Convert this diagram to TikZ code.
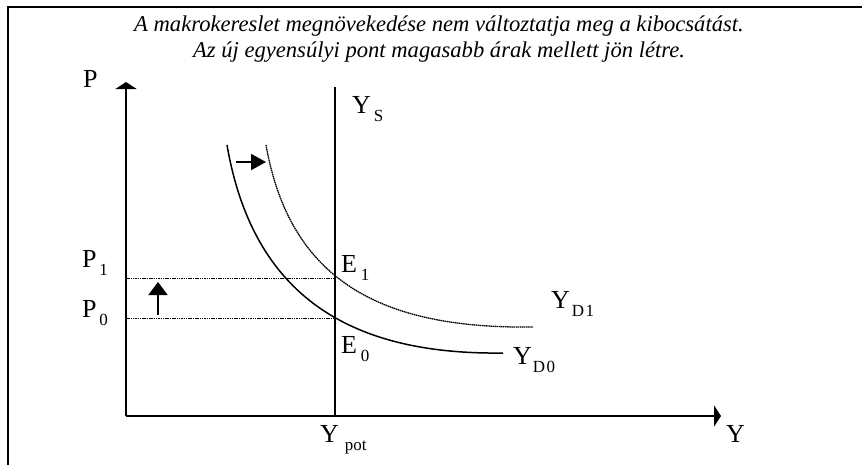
\documentclass[tikz,border=0pt]{standalone}
\usepackage{fontspec}
\setmainfont{Liberation Serif}
\usetikzlibrary{arrows.meta}
\newcommand{\mainlab}[2]{\fontsize{26}{26}\selectfont #1\hspace{#2}}
\newcommand{\sublab}[1]{\raisebox{-8.5pt}{\fontsize{17}{17}\selectfont #1}}
\tikzset{
  lbl/.style={anchor=base west, inner sep=0pt, outer sep=0pt},
  ttl/.style={anchor=base, inner sep=0pt, font=\fontsize{22.6}{24}\selectfont\itshape},
  axis/.style={line width=2pt, -{Triangle[length=7pt,width=21pt]}},
  supply/.style={line width=2pt},
  dem/.style={line width=1.5pt},
  demnew/.style={line width=1.3pt, dash pattern=on 1.5pt off 0.6pt},
  guide/.style={line width=1pt, dash pattern=on 1.5pt off 0.8pt},
  shiftarr/.style={line width=2pt, -{Triangle[length=15pt,width=16pt]}},
  framel/.style={line width=2.5pt}
}
\begin{document}
\begin{tikzpicture}[x=1pt,y=-1pt]
\useasboundingbox (0,0) rectangle (862,464);
% frame
\coordinate (fbl) at (8,470);
\coordinate (ftl) at (8,7);
\coordinate (ftr) at (870,7);
\draw[framel] (fbl) -- (ftl) -- (ftr);
% title
\node[ttl] (t1) at (439,31) {A makrokereslet megnövekedése nem változtatja meg a kibocsátást.};
\node[ttl] (t2) at (439,57) {Az új egyensúlyi pont magasabb árak mellett jön létre.};
% axes
\coordinate (O) at (126,416);
\coordinate (Ptop) at (126,82);
\coordinate (Yend) at (721,416);
\draw[axis] (O) -- (Ptop);
\draw[axis] (O) -- (Yend);
% supply
\coordinate (Stop) at (335,87);
\coordinate (Sbot) at (335,416);
\draw[supply] (Sbot) -- (Stop);
% equilibria
\coordinate (E1) at (335,278);
\coordinate (E0) at (335,318);
\coordinate (P1) at (126,278);
\coordinate (P0) at (126,318);
\draw[guide] (P1) -- (E1);
\draw[guide] (P0) -- (E0);
% demand curves
\coordinate (d0s) at (227,145);
\coordinate (d0e) at (503,353);
\coordinate (d1s) at (266,145);
\coordinate (d1e) at (533,327);
\draw[dem] (d0s) .. controls (253,296) and (350,355) .. (d0e);
\draw[demnew] (d1s) .. controls (290,280) and (380,329) .. (d1e);
% shift arrows
\coordinate (ra1) at (236,162);
\coordinate (ra2) at (266,162);
\draw[shiftarr] (ra1) -- (ra2);
\coordinate (ua1) at (158,315);
\coordinate (ua2) at (158,282);
\draw[shiftarr, -{Triangle[length=13pt,width=19pt]}] (ua1) -- (ua2);
% labels
\node[lbl] (lP) at (83,87) {\mainlab{P}{0pt}};
\node[lbl] (lYs) at (352,113) {\mainlab{Y}{3pt}\sublab{S}};
\node[lbl] (lP1) at (82,267) {\mainlab{P}{3pt}\sublab{1}};
\node[lbl] (lP0) at (82,317) {\mainlab{P}{3pt}\sublab{0}};
\node[lbl] (lE1) at (341,272) {\mainlab{E}{4pt}\sublab{1}};
\node[lbl] (lE0) at (341,353) {\mainlab{E}{4pt}\sublab{0}};
\node[lbl] (lYD1) at (551,308) {\mainlab{Y}{2pt}\sublab{D\hspace{1.5pt}1}};
\node[lbl] (lYD0) at (513,364) {\mainlab{Y}{1pt}\sublab{D\hspace{1.5pt}0}};
\node[lbl] (lYpot) at (320,442) {\mainlab{Y}{6pt}\sublab{pot}};
\node[lbl] (lY) at (726,442) {\mainlab{Y}{0pt}};
\end{tikzpicture}
\end{document}
